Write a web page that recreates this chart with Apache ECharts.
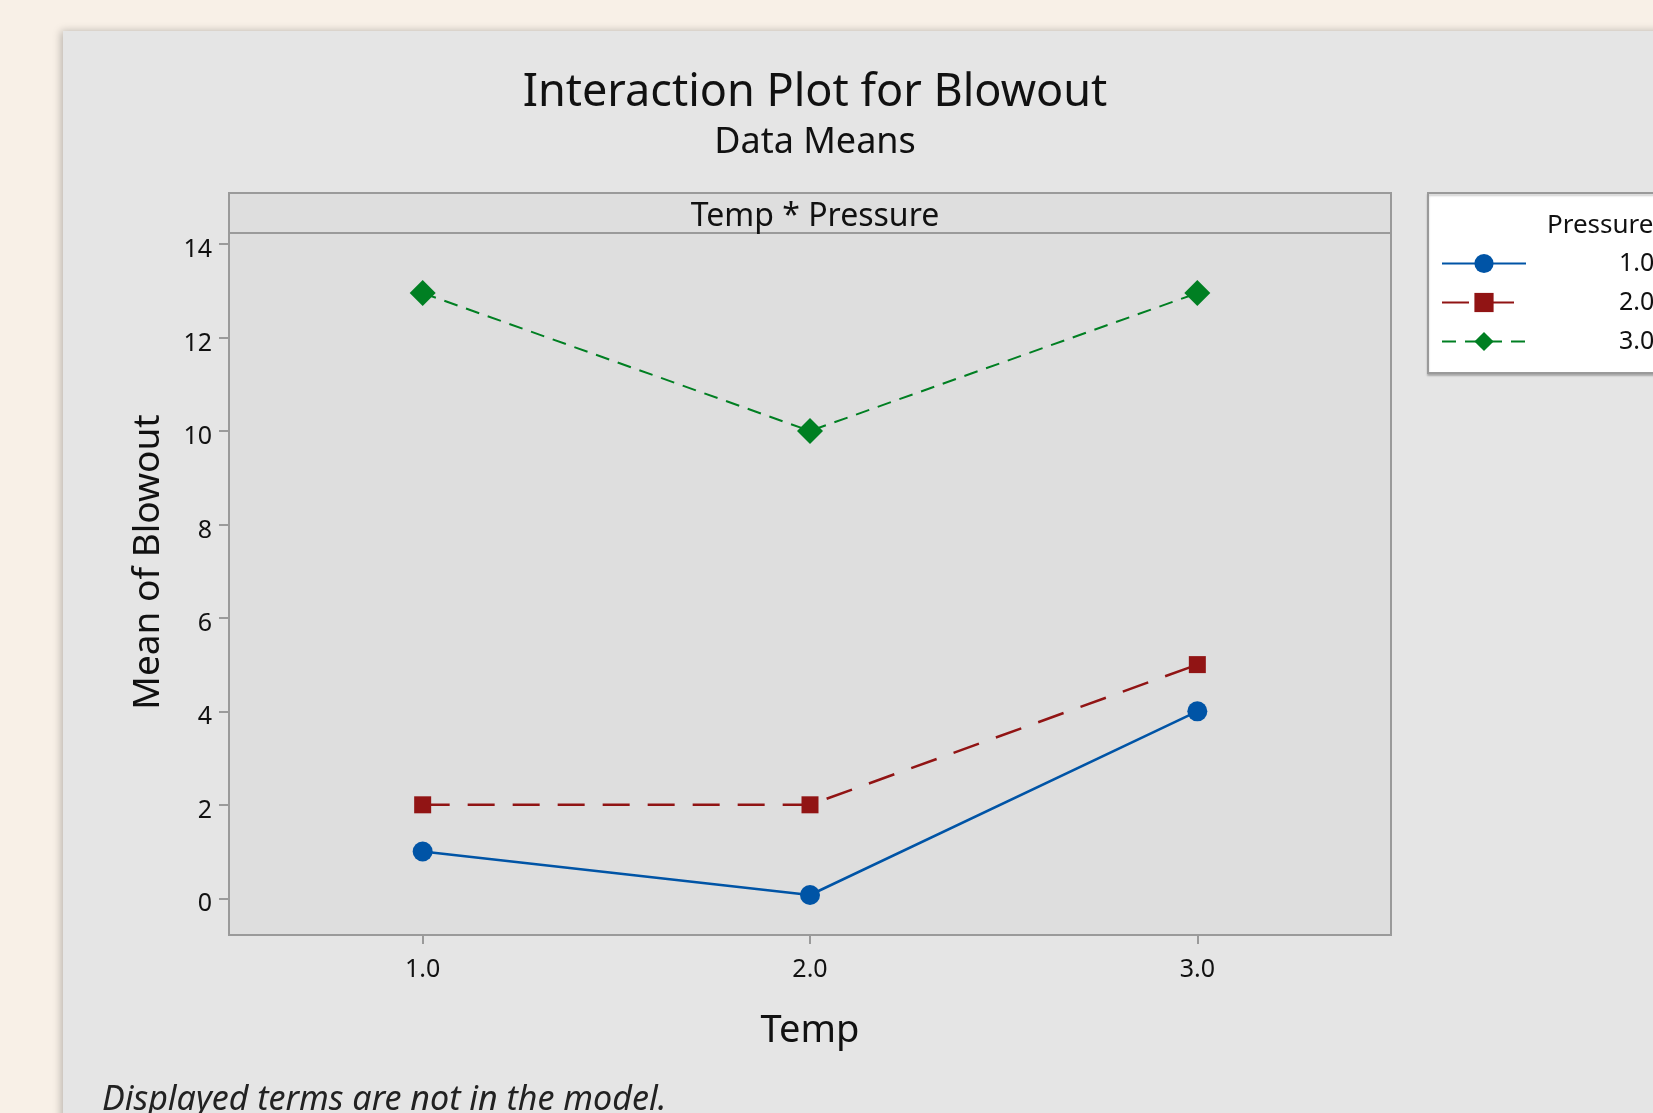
<!DOCTYPE html>
<html>
<head>
<meta charset="utf-8">
<script src="https://cdn.jsdelivr.net/npm/echarts@6/dist/echarts.min.js"></script>
<style>
  html, body { margin: 0; padding: 0; background: #f8f0e7; }
  #chart { width: 1653px; height: 1113px; }
</style>
</head>
<body>
<div id="chart"></div>
<script>
const temps = [1, 2, 3];
const pressureLevels = ['1.0', '2.0', '3.0'];
const meansP1 = [1, 0.07, 4];
const meansP2 = [2, 2, 5];
const meansP3 = [12.95, 10, 12.95];
const xTicks = [1, 2, 3];
const xTickLabels = ['1.0', '2.0', '3.0'];
const yTicks = [0, 2, 4, 6, 8, 10, 12, 14];

const font = 'Noto Sans';
const frame = '#9a9a9a';

const chart = echarts.init(document.getElementById('chart'));

const mk = (name, vals, color, symbol, size, type, width) => ({
    name: name,
    type: 'line',
    data: temps.map((t, i) => [t, vals[i]]),
    symbol: symbol,
    symbolSize: size,
    itemStyle: {color: color},
    lineStyle: {color: color, width: width, type: type},
    emphasis: {disabled: true},
    animation: false
});

chart.setOption({
    backgroundColor: '#f8f0e7',
    title: [
        {text: 'Interaction Plot for Blowout', left: 810, top: 66, textAlign: 'center',
            textStyle: {fontFamily: font, fontSize: 45, fontWeight: 'normal', color: '#111'}},
        {text: 'Data Means', left: 810, top: 120, textAlign: 'center',
            textStyle: {fontFamily: font, fontSize: 36, fontWeight: 'normal', color: '#111'}},
        {text: 'Temp * Pressure', left: 810, top: 196, textAlign: 'center',
            textStyle: {fontFamily: font, fontSize: 32, fontWeight: 'normal', color: '#111'}},
        {text: 'Displayed terms are not in the model.', left: 97, top: 1078,
            textStyle: {fontFamily: font, fontSize: 34, fontWeight: 'normal', fontStyle: 'italic', color: '#222'}}
    ],
    graphic: [
        {type: 'rect', z: -10, shape: {x: 63, y: 31, width: 1700, height: 1200},
            style: {fill: '#e5e5e5', shadowBlur: 8, shadowColor: 'rgba(0,0,0,0.25)', shadowOffsetX: -2}},
        {type: 'rect', z: -5, shape: {x: 229, y: 193, width: 1162, height: 40},
            style: {fill: '#dedede', stroke: frame, lineWidth: 2}},
        {type: 'text', z: 100, left: 1547, top: 213,
            style: {text: 'Pressure', fontFamily: font, fontSize: 26, fill: '#111'}}
    ],
    legend: {
        orient: 'vertical',
        left: 1428,
        top: 193,
        padding: [58, 60, 19, 13],
        backgroundColor: '#ffffff',
        borderColor: frame,
        borderWidth: 2,
        shadowColor: 'rgba(0,0,0,0.2)',
        shadowBlur: 2,
        shadowOffsetY: 2,
        itemWidth: 84,
        itemHeight: 24,
        itemGap: 14,
        selectedMode: false,
        textStyle: {fontFamily: font, fontSize: 25, color: '#111', lineHeight: 24, padding: [0, 0, 0, 88]},
        data: pressureLevels
    },
    grid: {
        left: 229, top: 233, right: 262, bottom: 178,
        show: true,
        backgroundColor: '#dedede',
        borderColor: frame,
        borderWidth: 2,
        outerBoundsMode: 'none'
    },
    xAxis: {
        type: 'value',
        min: 0.5,
        max: 3.5,
        name: 'Temp',
        nameLocation: 'middle',
        nameGap: 77,
        nameTextStyle: {fontFamily: font, fontSize: 38, color: '#111'},
        axisLine: {show: true, onZero: false, lineStyle: {color: frame, width: 2}},
        axisTick: {show: true, length: 9, customValues: xTicks, lineStyle: {color: frame, width: 2}},
        axisLabel: {
            customValues: xTicks,
            margin: 22,
            fontFamily: font, fontSize: 25, color: '#111',
            formatter: v => xTickLabels[xTicks.indexOf(v)]
        },
        splitLine: {show: false}
    },
    yAxis: {
        type: 'value',
        min: -0.786,
        max: 14.236,
        name: 'Mean of Blowout',
        nameLocation: 'middle',
        nameGap: 62,
        nameTextStyle: {fontFamily: font, fontSize: 37, color: '#111', padding: [0, 0, 0, 44]},
        axisLine: {show: true, lineStyle: {color: frame, width: 2}},
        axisTick: {show: true, length: 10, customValues: yTicks, lineStyle: {color: frame, width: 2}},
        axisLabel: {customValues: yTicks, margin: 17, verticalAlign: 'top', lineHeight: 12,
            fontFamily: font, fontSize: 25, color: '#111'},
        splitLine: {show: false}
    },
    series: [
        mk(pressureLevels[0], meansP1, '#0054a6', 'circle', 20, 'solid', 2.5),
        mk(pressureLevels[1], meansP2, '#911414', 'rect', 17, [27, 18], 2.5),
        mk(pressureLevels[2], meansP3, '#007f22', 'diamond', 26, [14, 9], 2)
    ]
});
</script>
</body>
</html>
